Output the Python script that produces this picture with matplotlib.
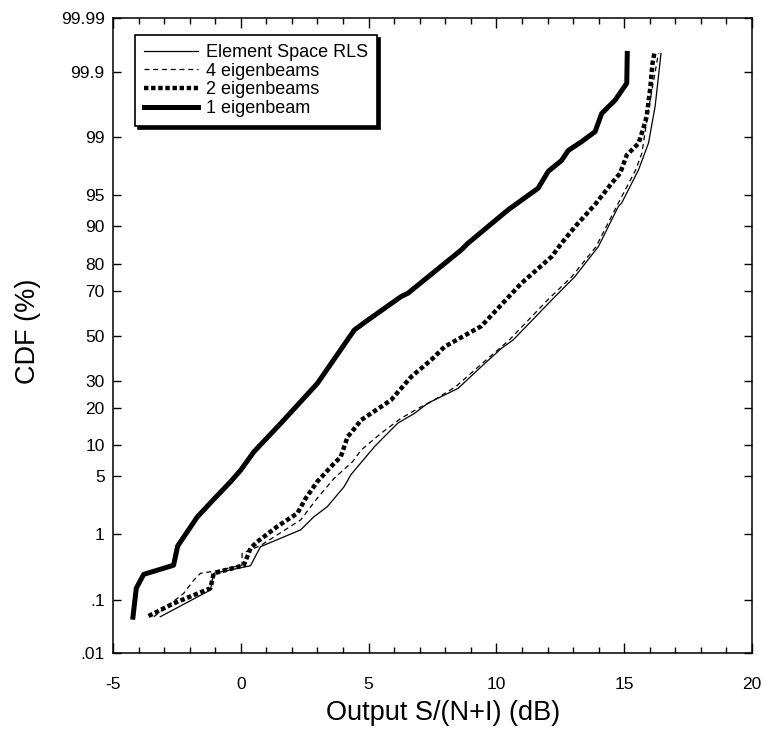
import math
import numpy as np
import matplotlib
matplotlib.use("Agg")
import matplotlib.pyplot as plt
from matplotlib.ticker import FixedLocator, MultipleLocator
from statistics import NormalDist

plt.rcParams['font.family'] = ['Liberation Sans', 'DejaVu Sans']

# ---- data (Output S/(N+I) in dB, CDF in %) ----
rls_x = [-3.15, -1.19, -1.06, 0.38, 0.77, 2.34, 2.86, 3.38, 3.66, 4.04, 4.31, 5.23, 5.62,
         6.14, 6.80, 7.32, 7.84, 8.50, 9.41, 10.20, 10.65, 12.16, 13.07, 13.99, 14.77,
         14.90, 15.56, 15.95, 16.21, 16.44]
rls_p = [0.05, 0.145, 0.27, 0.354, 0.675, 1.15, 1.70, 2.26, 2.85, 3.85, 5.2, 9.7, 11.9,
         15.3, 18.2, 21.5, 23.8, 26.9, 35.9, 44.2, 48.0, 66.2, 75.6, 85.2, 93.5,
         94.0, 97.4, 98.8, 99.64, 99.953]

eig4_x = [-3.40, -2.24, -1.84, -1.58, -1.06, 0.05, 0.05, 0.77, 2.34, 2.99, 3.65, 4.37,
          4.71, 5.49, 6.27, 7.06, 7.45, 8.40, 9.30, 10.50, 12.00, 12.95, 13.90, 14.70,
          15.45, 15.69, 15.97, 16.34]
eig4_p = [0.05, 0.127, 0.21, 0.27, 0.29, 0.36, 0.54, 0.70, 1.55, 2.85, 4.75, 7.0,
          9.05, 12.7, 16.7, 20.3, 22.0, 27.5, 35.9, 48.0, 66.2, 75.6, 85.2, 93.5,
          97.4, 98.37, 99.64, 99.953]

eig2_x = [-3.61, -2.63, -1.19, -1.06, 0.12, 0.38, 0.64, 1.42, 2.21, 2.54, 2.99, 3.66,
          3.91, 4.18, 4.30, 4.71, 5.88, 6.67, 7.45, 7.97, 9.41, 10.98, 12.16, 12.55,
          13.07, 13.86, 14.51, 14.84, 15.10, 15.56, 15.75, 15.88, 16.01, 16.11, 16.18]
eig2_p = [0.0515, 0.086, 0.155, 0.27, 0.36, 0.64, 0.79, 1.27, 1.88, 2.85, 4.37, 6.8,
          7.8, 11.9, 12.7, 16.2, 22.6, 31.6, 38.9, 44.9, 54.5, 73.1, 82.3, 86.1,
          89.9, 93.8, 96.3, 97.15, 98.29, 98.79, 99.25, 99.49, 99.80, 99.93, 99.953]

eig1_x = [-4.22, -4.09, -3.80, -2.63, -2.47, -1.71, -1.06, -0.40, 0.0, 0.51, 1.57, 3.0,
          4.44, 4.97, 6.27, 6.54, 8.63, 8.89, 10.46, 11.63, 12.03, 12.55, 12.81, 13.33,
          13.86, 14.12, 14.64, 15.10, 15.12]
eig1_p = [0.049, 0.155, 0.26, 0.36, 0.69, 1.68, 2.77, 4.37, 5.8, 8.7, 15.3, 28.9,
          52.7, 57.3, 67.7, 69.1, 84.3, 86.1, 93.0, 95.8, 97.3, 98.0, 98.5, 98.85,
          99.16, 99.54, 99.71, 99.845, 99.953]

ytick_vals = [0.01, 0.1, 1, 5, 10, 20, 30, 50, 70, 80, 90, 95, 99, 99.9, 99.99]
ytick_labels = ['.01', '.1', '1', '5', '10', '20', '30', '50', '70', '80', '90', '95',
                '99', '99.9', '99.99']
xtick_vals = [-5, 0, 5, 10, 15, 20]
xtick_labels = ['-5', '0', '5', '10', '15', '20']

labels = ['Element Space RLS', '4 eigenbeams', '2 eigenbeams', '1 eigenbeam']

# ---- probit scale ----
_nd = NormalDist()


def _inv1(p):
    if not np.isfinite(p):
        return np.nan
    return _nd.inv_cdf(min(max(p / 100.0, 1e-9), 1 - 1e-9))


def _cdf1(z):
    if not np.isfinite(z):
        return np.nan
    return 50.0 * (1.0 + math.erf(z / math.sqrt(2.0)))


_inv = np.vectorize(_inv1, otypes=[float])
_cdf = np.vectorize(_cdf1, otypes=[float])


def fwd(p):
    return _inv(np.asarray(p, dtype=float))


def inv(z):
    return _cdf(np.asarray(z, dtype=float))


W, H = 772, 732
L, R, T, B = 113, 752, 18.3, 653.3
fig = plt.figure(figsize=(W / 100, H / 100), dpi=100)
ax = fig.add_axes([L / W, (H - B) / H, (R - L) / W, (B - T) / H])
ax.set_yscale('function', functions=(fwd, inv))

ax.plot(rls_x, rls_p, color='black', lw=0.9, label=labels[0])
ax.plot(eig4_x, eig4_p, color='black', lw=0.9, dashes=(4, 3), label=labels[1])
ax.plot(eig2_x, eig2_p, color='black', lw=3.2, dashes=(1.0, 0.6), label=labels[2])
ax.plot(eig1_x, eig1_p, color='black', lw=3.6, label=labels[3])

ax.set_xlim(-5, 20)
ax.set_ylim(0.01, 99.99)
ax.yaxis.set_major_locator(FixedLocator(ytick_vals))
ax.set_yticks(ytick_vals)
ax.set_yticklabels(ytick_labels)
ax.yaxis.set_minor_locator(FixedLocator([]))
ax.set_xticks(xtick_vals)
ax.set_xticklabels(xtick_labels)
ax.xaxis.set_minor_locator(MultipleLocator(1))

ax.tick_params(axis='both', which='both', direction='in', top=True, right=True,
               width=1.0, labelsize=12.5)
ax.tick_params(axis='x', which='major', length=7, pad=17)
ax.tick_params(axis='x', which='minor', length=4)
ax.tick_params(axis='y', which='major', length=6, pad=6)
for s in ax.spines.values():
    s.set_linewidth(1.1)

ax.set_xlabel('Output S/(N+I) (dB)', fontsize=19.5)
ax.set_ylabel('CDF (%)', fontsize=19.5)
ax.xaxis.set_label_coords((443 - L) / (R - L), (B - 713) / (B - T))
ax.xaxis.label.set_verticalalignment('center')
ax.xaxis.label.set_horizontalalignment('center')
ax.yaxis.set_label_coords((27.5 - L) / (R - L), (B - 331) / (B - T))
ax.yaxis.label.set_verticalalignment('center')
ax.yaxis.label.set_horizontalalignment('center')

leg = ax.legend(loc='upper left', bbox_to_anchor=(0.034, 0.974), borderaxespad=0,
                fontsize=13, frameon=True, fancybox=False, edgecolor='black',
                handlelength=3.0, handletextpad=0.45, labelspacing=0.1, borderpad=0.5,
                shadow={'facecolor': 'black', 'edgecolor': 'black', 'alpha': 1.0})
leg.get_frame().set_linewidth(1.2)

fig.savefig('out.png', dpi=100)
